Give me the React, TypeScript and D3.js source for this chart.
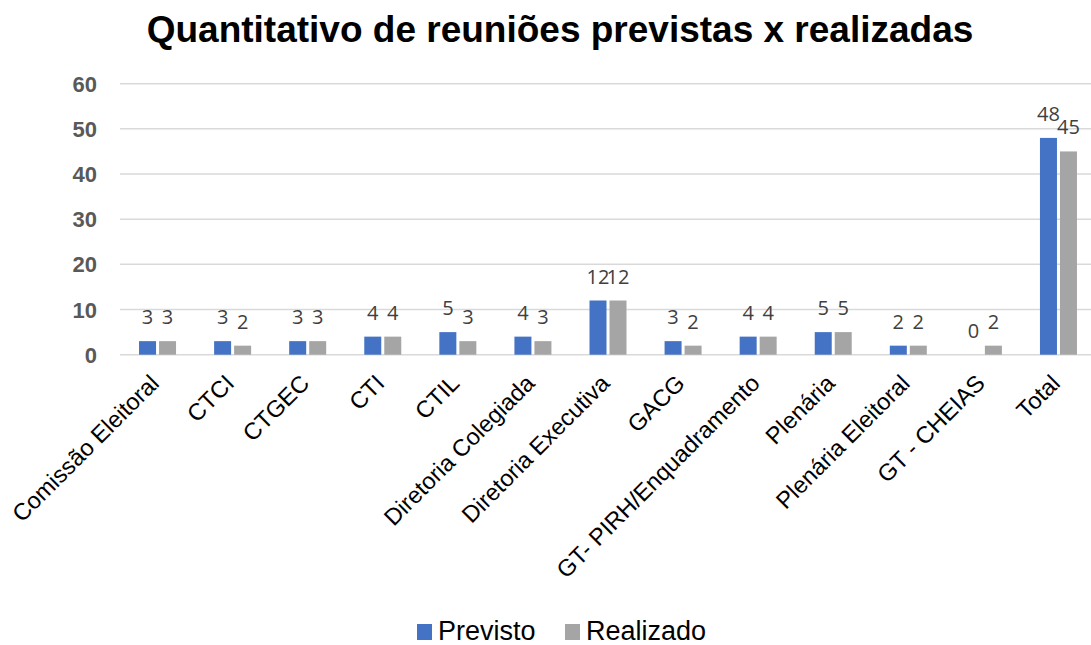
import * as d3 from "d3";

const categories = [
  "Comissão Eleitoral",
  "CTCI",
  "CTGEC",
  "CTI",
  "CTIL",
  "Diretoria Colegiada",
  "Diretoria Executiva",
  "GACG",
  "GT- PIRH/Enquadramento",
  "Plenária",
  "Plenária Eleitoral",
  "GT - CHEIAS",
  "Total",
];
const previsto = [3, 3, 3, 4, 5, 4, 12, 3, 4, 5, 2, 0, 48];
const realizado = [3, 2, 3, 4, 3, 3, 12, 2, 4, 5, 2, 2, 45];
const yTicks = [0, 10, 20, 30, 40, 50, 60];

const W = 1091;
const H = 645;
const left = 120;
const right = 1096;
const top = 83.7;
const bottom = 354.7;

const BLUE = "#4472C4";
const GRAY = "#A5A5A5";

export default function App() {
  const x = d3.scaleBand<string>().domain(categories).range([left, right]);
  const y = d3.scaleLinear().domain([0, 60]).range([bottom, top]);
  const barW = 17;
  const gap = 3;

  const series = [
    { name: "Previsto", values: previsto, color: BLUE, off: -gap / 2 - barW },
    { name: "Realizado", values: realizado, color: GRAY, off: gap / 2 },
  ];

  return (
    <svg
      width={W}
      height={H}
      style={{ position: "absolute", left: 0, top: 0, background: "#fff" }}
      fontFamily="'Liberation Sans', Arial, sans-serif"
    >
      <text x={560} y={42} textAnchor="middle" fontSize={37} fontWeight="bold" fill="#000">
        Quantitativo de reuniões previstas x realizadas
      </text>
      {yTicks.map((t) => (
        <g key={t}>
          <line x1={left} x2={right} y1={y(t)} y2={y(t)} stroke="#D9D9D9" strokeWidth={1.5} />
          <text x={97} y={y(t) + 8} textAnchor="end" fontSize={22} fontWeight="bold" fill="#595959">
            {t}
          </text>
        </g>
      ))}
      {series.map((s) =>
        categories.map((c, i) => {
          const cx = x(c)! + x.bandwidth() / 2;
          const v = s.values[i];
          return (
            <g key={s.name + c}>
              {v > 0 && (
                <rect x={cx + s.off} y={y(v)} width={barW} height={bottom - y(v)} fill={s.color} />
              )}
              <text
                x={cx + s.off + barW / 2}
                y={y(v) - 17}
                textAnchor="middle"
                fontSize={20}
                fontFamily="'Open Sans', 'Noto Sans', sans-serif"
                fill="#404040"
              >
                {v}
              </text>
            </g>
          );
        })
      )}
      {categories.map((c) => {
        const cx = x(c)! + x.bandwidth() / 2;
        return (
          <text
            key={c}
            transform={`translate(${cx + 3},${bottom + 30}) rotate(-45)`}
            textAnchor="end"
            fontSize={23.5}
            fill="#000"
          >
            {c}
          </text>
        );
      })}
      <g>
        <rect x={417} y={624} width={15} height={16} fill={BLUE} />
        <text x={438} y={640} fontSize={27} fill="#000">Previsto</text>
        <rect x={565} y={624} width={15} height={16} fill={GRAY} />
        <text x={586} y={640} fontSize={27} fill="#000">Realizado</text>
      </g>
    </svg>
  );
}
